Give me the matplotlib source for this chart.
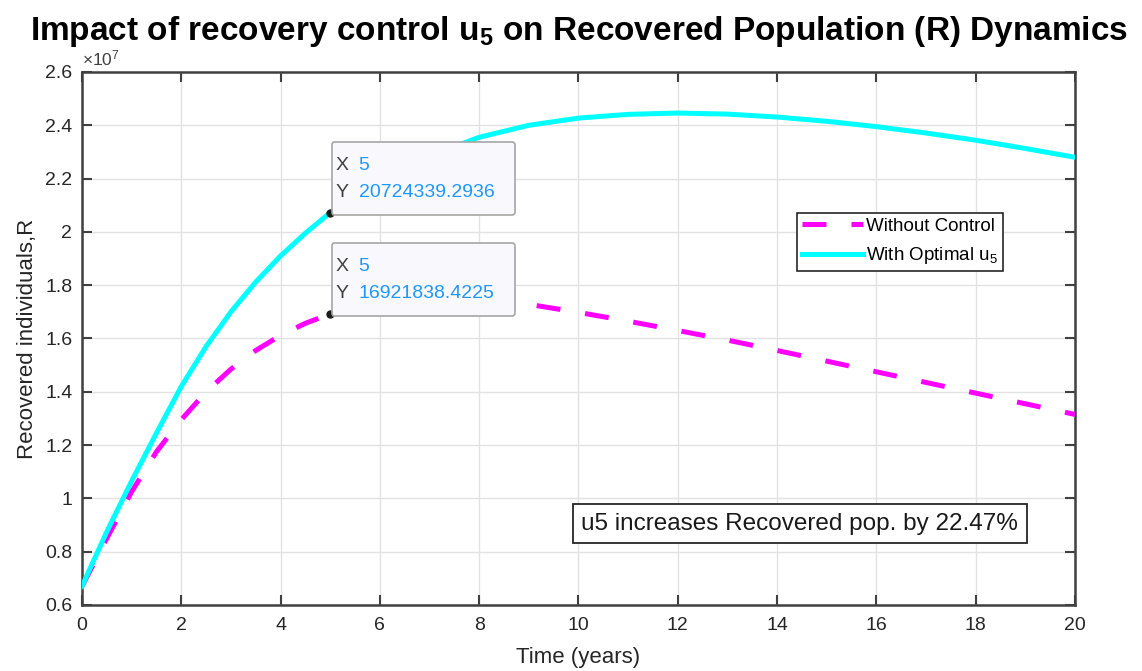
import numpy as np
import matplotlib
matplotlib.use("Agg")
import matplotlib.pyplot as plt
from matplotlib.ticker import FuncFormatter, MultipleLocator
from matplotlib.offsetbox import TextArea, HPacker, VPacker, AnnotationBbox, DrawingArea

plt.rcParams['font.family'] = ['Liberation Sans', 'DejaVu Sans']
plt.rcParams['mathtext.fontset'] = 'custom'
plt.rcParams['mathtext.rm'] = 'Liberation Sans'
plt.rcParams['mathtext.bf'] = 'Liberation Sans:bold'
plt.rcParams['mathtext.default'] = 'regular'

# time points (years) and R values (x1e7)
t = [0, 0.5, 1, 1.5, 2, 2.5, 3, 3.5, 4, 4.5, 5, 6, 7, 8, 9, 10,
     11, 12, 13, 14, 15, 16, 17, 18, 19, 20]
r_no_control = [0.670, 0.850, 1.025, 1.175, 1.295, 1.400, 1.485, 1.555, 1.612, 1.657,
                1.6922, 1.735, 1.752, 1.748, 1.728, 1.698, 1.665, 1.630, 1.594,
                1.555, 1.515, 1.475, 1.435, 1.395, 1.355, 1.315]
r_with_u5 = [0.670, 0.875, 1.065, 1.245, 1.420, 1.570, 1.700, 1.812, 1.910, 1.995,
             2.0724, 2.190, 2.285, 2.355, 2.400, 2.427, 2.441, 2.446, 2.442,
             2.431, 2.415, 2.395, 2.371, 2.344, 2.313, 2.280]
r_no_control = np.array(r_no_control) * 1e7
r_with_u5 = np.array(r_with_u5) * 1e7

# data tips
tip_x = 5
tip_y_u5 = 20724339.2936
tip_y_none = 16921838.4225
gain_pct = 22.47

fig = plt.figure(figsize=(11.42, 6.71), dpi=100)
ax = fig.add_axes([0.0718, 0.0984, 0.8695, 0.7943])

ax.plot(t, r_no_control, color='#ff00ff', lw=3.6, linestyle=(0, (4.8, 5.0)),
        dash_capstyle='butt', label='Without Control', zorder=3)
ax.plot(t, r_with_u5, color='#00ffff', lw=3.6, label='With Optimal u$_5$', zorder=3)

ax.set_xlim(0, 20)
ax.set_ylim(0.6e7, 2.6e7)
ax.xaxis.set_major_locator(MultipleLocator(2))
ax.yaxis.set_major_locator(MultipleLocator(0.2e7))
ax.yaxis.set_major_formatter(FuncFormatter(lambda v, p: '{:g}'.format(round(v / 1e7, 2))))
ax.grid(True, color='#e2e2e2', lw=1.0)
ax.set_axisbelow(True)
ax.tick_params(direction='in', length=7, width=1.5, top=True, right=True,
               labelsize=14, colors='#404040', labelcolor='#262626')
ax.tick_params(axis='x', pad=9)
ax.tick_params(axis='y', pad=7)
for s in ax.spines.values():
    s.set_color('#404040')
    s.set_linewidth(1.8)

ax.set_xlabel('Time (years)', fontsize=16, color='#262626', labelpad=9)
ax.set_ylabel('Recovered individuals,R', fontsize=16, color='#262626', labelpad=5)
ax.set_title('Impact of recovery control u$_5$ on Recovered Population (R) Dynamics',
             fontsize=24, fontweight='bold', pad=23)
ax.text(0.0, 1.006, r'$\times10^{7}$', transform=ax.transAxes, fontsize=12.5,
        color='#404040', ha='left', va='bottom')

leg = ax.legend(loc='upper left', bbox_to_anchor=(0.72, 0.7355), fontsize=13.5,
                handlelength=3.3, handletextpad=0.15, borderpad=0.25, borderaxespad=0,
                labelspacing=0.55, fancybox=False, framealpha=1, edgecolor='#262626')
leg.get_frame().set_linewidth(1.2)

ax.text(0.503, 0.152, 'u5 increases Recovered pop. by {:.2f}%'.format(gain_pct),
        transform=ax.transAxes, fontsize=17.5, ha='left', va='center', color='#1a1a1a',
        bbox=dict(boxstyle='square,pad=0.35', fc='white', ec='#262626', lw=1.3), zorder=5)


def data_tip(x, y):
    ax.plot(x, y, 'o', color='#1a1a1a', ms=5, zorder=6)
    lab = dict(color='#404040', fontsize=14)
    val = dict(color='#1f97ff', fontsize=14)
    row1 = HPacker(children=[TextArea('X', textprops=lab), TextArea('{:g}'.format(x), textprops=val)],
                   sep=7, align='baseline')
    row2 = HPacker(children=[TextArea('Y', textprops=lab), TextArea('{:.4f}'.format(y), textprops=val)],
                   sep=7, align='baseline')
    rows = VPacker(children=[DrawingArea(1, 0), row1, row2, DrawingArea(1, 0)], sep=7, align='left')
    box = HPacker(children=[rows, DrawingArea(12, 1)], sep=0)
    ab = AnnotationBbox(box, (x, y), xybox=(4, 1.5), xycoords='data', boxcoords='offset points',
                        box_alignment=(0, 0), pad=0.35,
                        bboxprops=dict(boxstyle='round,pad=0.3,rounding_size=0.2',
                                       fc='#f9f9fd', ec='#a6a6a6', lw=1.2))
    ab.set_zorder(7)
    ax.add_artist(ab)


data_tip(tip_x, tip_y_u5)
data_tip(tip_x, tip_y_none)

fig.savefig('out.png', dpi=100)
